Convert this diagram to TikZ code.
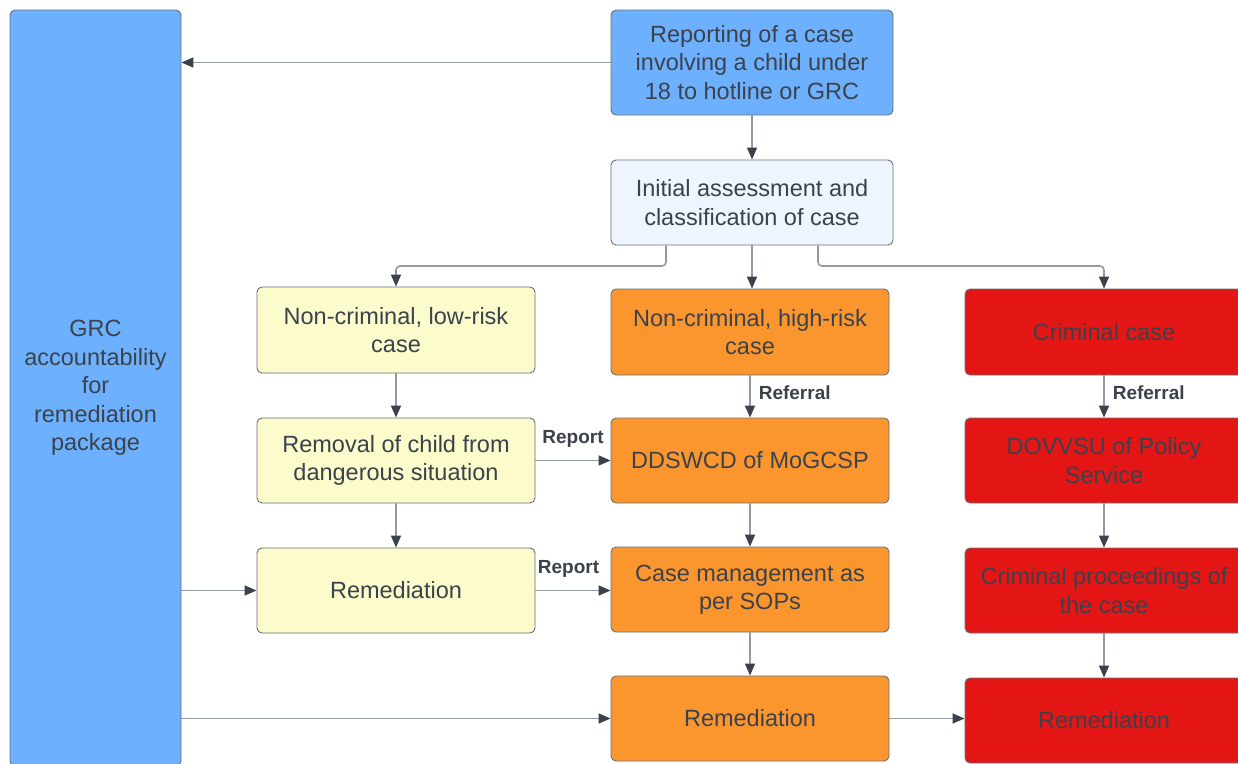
\documentclass[tikz,border=0pt]{standalone}
\usepackage{fontspec}
\setmainfont{Liberation Sans}
\newfontfamily\lblfont{Liberation Sans}
\usetikzlibrary{arrows.meta}
\definecolor{txt}{HTML}{3B424B}
\definecolor{bluef}{HTML}{6CB0FE}
\definecolor{lightf}{HTML}{EEF5FF}
\definecolor{yellf}{HTML}{FBFBCB}
\definecolor{orangef}{HTML}{FB962F}
\definecolor{redf}{HTML}{E41515}
\definecolor{linec}{HTML}{959AA2}
\definecolor{bordc}{HTML}{6A7079}
\tikzset{
  box/.style={draw=bordc, line width=0.9pt, rounded corners=5pt, align=center,
    inner sep=0pt, text=txt, font=\fontsize{23.5}{28.5}\selectfont},
  arr/.style={draw=linec, line width=1.6pt,
    -{Triangle[length=12pt,width=10pt,color=txt,fill=txt]}},
  lbl/.style={text=txt, font=\lblfont\bfseries\fontsize{19}{22}\selectfont, inner sep=0pt}
}
\begin{document}
\begin{tikzpicture}[x=1pt,y=-1pt]
\useasboundingbox (0,0) rectangle (1238,763);
\fill[white] (0,0) rectangle (1238,763);
% nodes
\node[box, fill=bluef, minimum width=171pt, minimum height=756pt] (grc) at (95.5,388)
  {GRC\\accountability\\for\\remediation\\package};
\node[box, fill=bluef, minimum width=282pt, minimum height=105pt] (report) at (752,62.5)
  {Reporting of a case\\involving a child under\\18 to hotline or GRC};
\node[box, fill=lightf, minimum width=282pt, minimum height=85pt] (init) at (752,202.5)
  {Initial assessment and\\classification of case};
\node[box, fill=yellf, minimum width=278pt, minimum height=86pt] (low) at (396,330)
  {Non-criminal, low-risk\\case};
\node[box, fill=orangef, minimum width=278pt, minimum height=86pt] (high) at (750,332)
  {Non-criminal, high-risk\\case};
\node[box, fill=redf, minimum width=278pt, minimum height=86pt] (crim) at (1104,332)
  {Criminal case};
\node[box, fill=yellf, minimum width=278pt, minimum height=85pt] (removal) at (396,460.5)
  {Removal of child from\\dangerous situation};
\node[box, fill=orangef, minimum width=278pt, minimum height=85pt] (ddswcd) at (750,460.5)
  {DDSWCD of MoGCSP};
\node[box, fill=redf, minimum width=278pt, minimum height=85pt] (dovvsu) at (1104,460.5)
  {DOVVSU of Policy\\Service};
\node[box, fill=yellf, minimum width=278pt, minimum height=85pt] (remY) at (396,590.5)
  {Remediation};
\node[box, fill=orangef, minimum width=278pt, minimum height=85pt] (casemgmt) at (750,589.5)
  {Case management as\\per SOPs};
\node[box, fill=redf, minimum width=278pt, minimum height=85pt] (crimproc) at (1104,590.5)
  {Criminal proceedings of\\the case};
\node[box, fill=orangef, minimum width=278pt, minimum height=85pt] (remO) at (750,718.5)
  {Remediation};
\node[box, fill=redf, minimum width=278pt, minimum height=85pt] (remR) at (1104,720.5)
  {Remediation};
% connectors
\draw[arr] (report.west) -- (report.west -| grc.east);
\draw[arr] (report.south) -- (init.north);
\draw[arr, rounded corners=4pt] ([xshift=-86pt]init.south) |- (396,266) -- (low.north);
\draw[arr] (init.south) -- (init.south |- high.north);
\draw[arr, rounded corners=4pt] ([xshift=66pt]init.south) |- (1104,266) -- (crim.north);
\draw[arr] (low) -- (removal);
\draw[arr] (high) -- node[lbl, right=8pt, pos=0.42] {Referral} (ddswcd);
\draw[arr] (crim) -- node[lbl, right=8pt, pos=0.42] {Referral} (dovvsu);
\draw[arr] (removal) -- node[lbl, above=12pt, pos=0.5] {Report} (ddswcd);
\draw[arr] (removal) -- (remY);
\draw[arr] (ddswcd) -- (casemgmt);
\draw[arr] (dovvsu) -- (crimproc);
\draw[arr] (remY.east) -- node[lbl, above=12pt, pos=0.44] {Report} (remY.east -| casemgmt.west);
\draw[arr] (remY.west -| grc.east) -- (remY.west);
\draw[arr] (casemgmt) -- (remO);
\draw[arr] (crimproc) -- (remR.north);
\draw[arr] (remO.west -| grc.east) -- (remO.west);
\draw[arr] (remO.east) -- (remO.east -| remR.west);
\end{tikzpicture}
\end{document}
